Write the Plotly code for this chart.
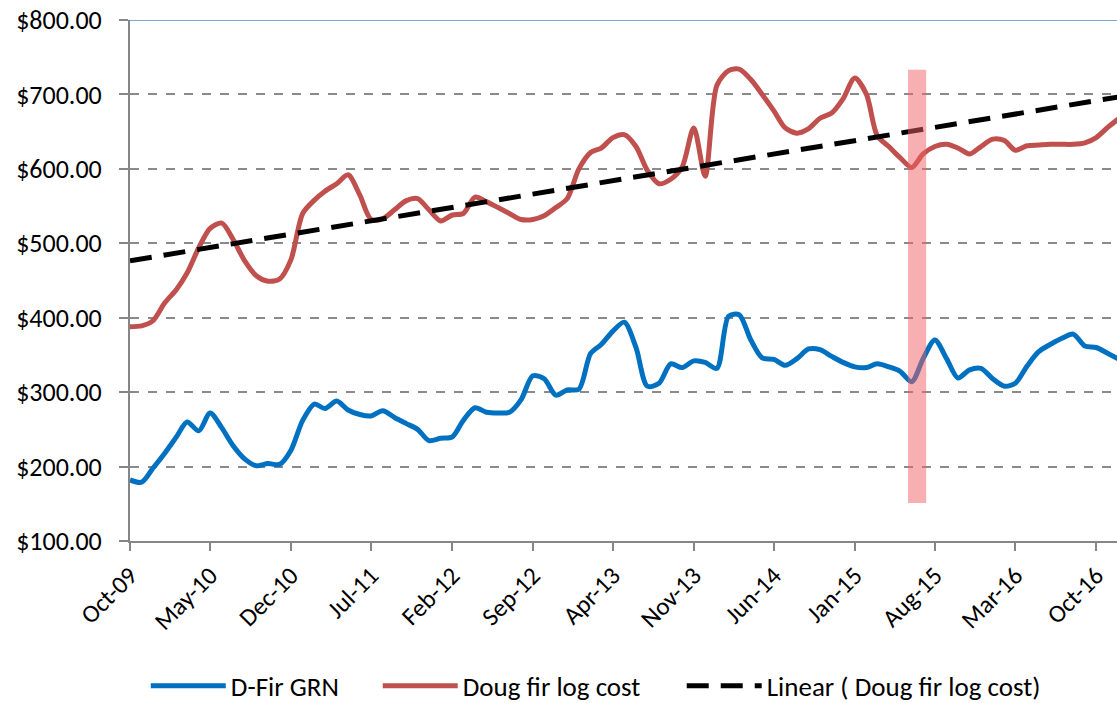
import numpy as np
import pandas as pd
import plotly.graph_objects as go

# monthly series, Oct-09 onward
months = pd.date_range("2009-10-01", periods=87, freq="MS")

dfir_grn = [
    182, 179, 198, 218, 240, 260, 248, 272, 252, 228,
    210, 201, 204, 203, 222, 262, 284, 278, 288, 276,
    270, 268, 275, 266, 258, 250, 235, 238, 240, 262,
    279, 273, 272, 273, 290, 322, 318, 296, 303, 304,
    352, 364, 382, 394, 360, 308, 312, 338, 333, 342,
    340, 332, 402, 404, 370, 346, 344, 336, 345, 358,
    357, 348, 340, 334, 333, 338, 334, 328, 314, 345,
    370, 345, 319, 330, 332, 318, 308, 312, 335, 354,
    364, 372, 378, 362, 360, 352, 344,
]

doug_fir_log = [
    388, 389, 396, 420, 438, 460, 494, 520, 527, 505,
    476, 456, 449, 452, 478, 540, 558, 570, 580, 592,
    565, 532, 533, 545, 557, 560, 545, 530, 538, 540,
    562, 556, 548, 540, 532, 532, 537, 548, 560, 600,
    622, 628, 642, 646, 630, 598, 580, 586, 602, 655,
    590, 712, 732, 734, 720, 700, 678, 655, 648, 654,
    668, 675, 694, 722, 700, 645, 630, 615, 602, 620,
    630, 633, 628, 620, 630, 640, 638, 625, 631, 632,
    633, 633, 633, 635, 642, 656, 668,
]

tick_dates = pd.date_range("2009-10-01", "2016-10-01", freq="7MS")

# linear trend of the log cost (least squares, like the spreadsheet trendline)
idx = np.arange(len(doug_fir_log))
slope, intercept = np.polyfit(idx, doug_fir_log, 1)
trend = intercept + slope * idx

fig = go.Figure()
fig.add_trace(go.Scatter(
    x=months, y=dfir_grn, name="D-Fir GRN", mode="lines", legend="legend",
    line=dict(color="#0070C0", width=5, shape="spline", smoothing=0.8),
))
fig.add_trace(go.Scatter(
    x=months, y=doug_fir_log, name="Doug fir log cost", mode="lines", legend="legend2",
    line=dict(color="#C0504D", width=5, shape="spline", smoothing=0.8),
))
fig.add_trace(go.Scatter(
    x=months, y=trend, name="Linear ( Doug fir log cost)", mode="lines", legend="legend3",
    line=dict(color="black", width=5, dash="22px,12px"),
))

# highlighted band
fig.add_shape(type="rect", xref="x", yref="y",
              x0="2015-05-22", x1="2015-07-09", y0=151, y1=733,
              fillcolor="rgba(240,95,100,0.5)", line_width=0, layer="above")
# top border line
fig.add_shape(type="line", xref="paper", yref="y", x0=0, x1=1, y0=800, y1=800,
              line=dict(color="#7fa3d6", width=2), layer="above")

font = "Calibri, Carlito, Lato, sans-serif"
leg = dict(orientation="h", xanchor="left", yref="container", y=0.024, yanchor="middle",
           font=dict(size=27), itemwidth=75, bgcolor="rgba(0,0,0,0)")
fig.update_layout(
    width=1117, height=703,
    margin=dict(l=130, r=0, t=20, b=162),
    plot_bgcolor="white", paper_bgcolor="white",
    font=dict(family=font, size=26, color="black"),
    showlegend=True,
    legend=dict(leg, x=0.016),
    legend2=dict(leg, x=0.251),
    legend3=dict(leg, x=0.559),
    xaxis=dict(
        type="date", range=["2009-10-01", "2016-11-25"], automargin=False,
        tickvals=tick_dates, tickformat="%b-%y", tickangle=-45,
        showgrid=False, showline=True, linecolor="#868686", linewidth=2,
        ticks="outside", ticklen=8, tickcolor="#868686", tickwidth=2,
        tickfont=dict(size=25),
    ),
    yaxis=dict(
        range=[100, 800], dtick=100, tickprefix="$", tickformat=".2f", automargin=False,
        showgrid=True, gridcolor="#8a8a8a", griddash="dash", gridwidth=1.5,
        showline=True, linecolor="#868686", linewidth=2,
        ticks="outside", ticklen=9, tickcolor="#868686", tickwidth=2,
        ticklabelstandoff=12, zeroline=False, ticklabeloverflow="allow",
    ),
)

# drop the page's default body margin so the figure sits at the window corner
fig.write_html("out.html", config={"displayModeBar": False},
               post_script="document.body.style.margin = '0';")
